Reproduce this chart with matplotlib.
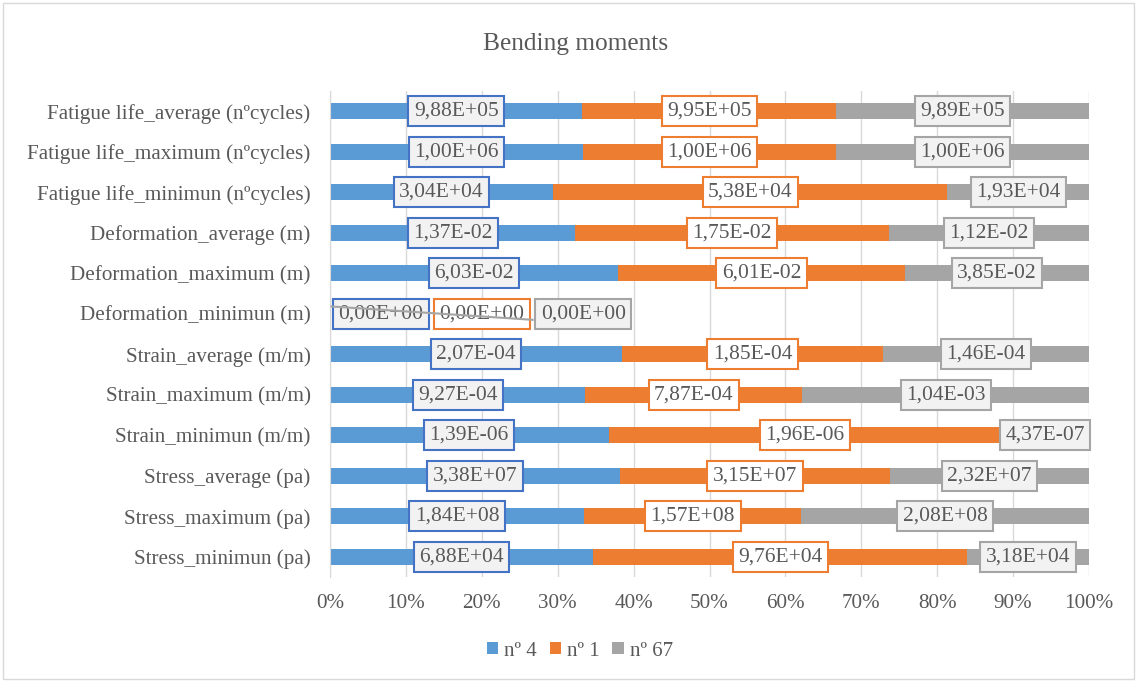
import numpy as np
import matplotlib.pyplot as plt
from matplotlib.patches import Rectangle

plt.rcParams['font.family'] = ['Liberation Serif', 'DejaVu Serif']

# categories listed bottom -> top
categories = [
    'Stress_minimun (pa)', 'Stress_maximum (pa)', 'Stress_average (pa)',
    'Strain_minimun (m/m)', 'Strain_maximum (m/m)', 'Strain_average (m/m)',
    'Deformation_minimun (m)', 'Deformation_maximum (m)', 'Deformation_average (m)',
    'Fatigue life_minimun (nºcycles)', 'Fatigue life_maximum (nºcycles)',
    'Fatigue life_average (nºcycles)',
]
n4 = [6.88e4, 1.84e8, 3.38e7, 1.39e-6, 9.27e-4, 2.07e-4, 0.0, 6.03e-2, 1.37e-2, 3.04e4, 1.00e6, 9.88e5]
n1 = [9.76e4, 1.57e8, 3.15e7, 1.96e-6, 7.87e-4, 1.85e-4, 0.0, 6.01e-2, 1.75e-2, 5.38e4, 1.00e6, 9.95e5]
n67 = [3.18e4, 2.08e8, 2.32e7, 4.37e-7, 1.04e-3, 1.46e-4, 0.0, 3.85e-2, 1.12e-2, 1.93e4, 1.00e6, 9.89e5]
series_names = ['nº 4', 'nº 1', 'nº 67']
colors = ['#5b9bd5', '#ed7d31', '#a5a5a5']
box_edges = ['#4472c4', '#ed7d31', '#a5a5a5']
box_faces = ['#f2f2f2', 'white', '#f2f2f2']

series = [np.array(n4), np.array(n1), np.array(n67)]
total = series[0] + series[1] + series[2]
safe_total = np.where(total == 0, 1, total)
shares = [s / safe_total for s in series]

fig = plt.figure(figsize=(11.37, 6.82), dpi=100)
ax = fig.add_axes([330 / 1137, 1 - 577 / 682, 759 / 1137, 486 / 682])

y = np.arange(len(categories))
left = np.zeros(len(categories))
for sh, name, c in zip(shares, series_names, colors):
    ax.barh(y, sh, left=left, height=0.4, color=c, label=name, zorder=2)
    left = left + sh

txt = '#595959'
label_w = 0.1335
left = np.zeros(len(categories))
for k, (sh, vals) in enumerate(zip(shares, series)):
    for i in range(len(categories)):
        s = f'{vals[i]:.2E}'.replace('.', ',')
        if total[i] == 0:
            xc = (k + 0.5) * label_w
        else:
            xc = left[i] + sh[i] / 2
        ax.text(xc, y[i], s, ha='center', va='center', fontsize=15.5, color=txt, zorder=4,
                bbox=dict(boxstyle='square,pad=0.25', fc=box_faces[k], ec=box_edges[k], lw=1.5))
    left = left + sh

# leader line for the all-zero row
zi = int(np.where(total == 0)[0][0])
ax.plot([0.002, 2 * label_w], [zi + 0.18, zi - 0.15], color='#a5a5a5', lw=1.5, zorder=5)

ax.set_xlim(0, 1)
ax.set_ylim(-0.5, len(categories) - 0.5)
ax.set_xticks(np.arange(0, 1.01, 0.1))
ax.set_xticklabels([f'{int(round(v * 100))}%' for v in np.arange(0, 1.01, 0.1)])
ax.set_yticks(y)
ax.set_yticklabels(categories)
ax.tick_params(axis='both', length=0, labelsize=15.2, labelcolor=txt)
ax.tick_params(axis='y', pad=14)
ax.tick_params(axis='x', pad=12)
ax.grid(axis='x', color='#d9d9d9', lw=1, zorder=0)
for sp in ['top', 'right', 'bottom']:
    ax.spines[sp].set_visible(False)
ax.spines['left'].set_color('#d9d9d9')

fig.text(576 / 1137, 1 - 44 / 682, 'Bending moments', ha='center', va='center', fontsize=18.3, color=txt)
fig.legend(loc='center', bbox_to_anchor=(580 / 1137, 1 - 651 / 682), ncol=3, frameon=False,
           fontsize=15, handlelength=0.55, handleheight=0.55, handletextpad=0.3, columnspacing=0.6,
           labelcolor=txt)

fig.patches.append(Rectangle((0.003, 0.004), 0.994, 0.992, transform=fig.transFigure,
                             fill=False, ec='#d9d9d9', lw=1))

fig.savefig('out.png', dpi=100)
